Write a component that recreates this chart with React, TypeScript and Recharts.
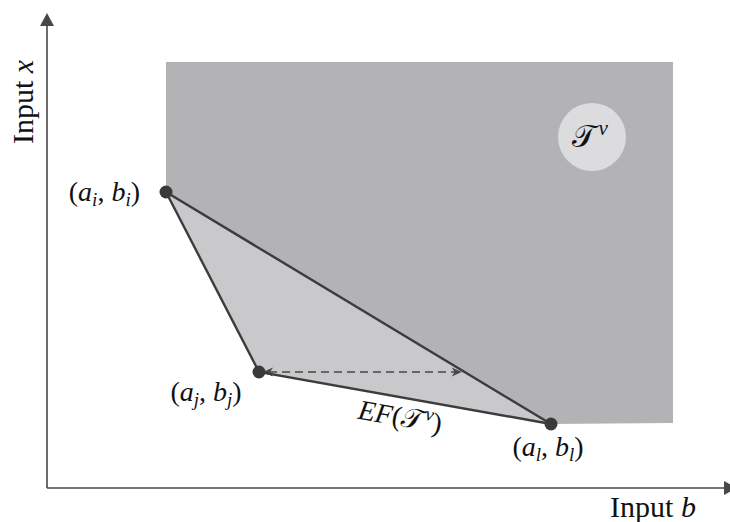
import React from 'react';
import {
  ComposedChart,
  Area,
  Line,
  XAxis,
  YAxis,
  ReferenceLine,
  ReferenceDot,
  LabelList,
} from 'recharts';

// Chart canvas
const WIDTH = 730;
const HEIGHT = 522;

// Vertices of the efficient frontier polygon (b = input b, x = input x)
const vertexNames = ['i', 'j', 'l'];
const vertexB = [119, 212, 504];
const vertexX = [296, 116, 64];

// Extent of the region T^v
const regionB = [119, 626];
const regionX = [65, 426];

// Centre of the T^v badge
const badgeB = 545;
const badgeX = 351;

// Axis ranges
const axisB = [0, 683];
const axisX = [0, 475];
const axisArrowB = 690;

const [bi, bj, bl] = vertexB;
const [xi, xj, xl] = vertexX;

// Rows shared by all series; ranges are [low, high] in input x
const rows = [
  { b: bi, light: [xi, regionX[1]], dark: [xi, regionX[1]], edge: xi, chord: xi },
  { b: bj, light: [xj, regionX[1]], edge: xj },
  { b: bl, light: [xl, regionX[1]], dark: [xl, regionX[1]], edge: xl, chord: xl },
  { b: regionB[1], dark: [regionX[0], regionX[1]] },
];

// Point on the chord i-l at the height of vertex j
const chordB = bi + ((bl - bi) * (xi - xj)) / (xi - xl);

const FONT = "'Liberation Serif', 'Times New Roman', serif";
const INK = '#111111';
const EDGE = '#3c3c3c';
const AXIS = '#474747';
const DARK_FILL = '#b3b3b6';
const LIGHT_FILL = '#c9c9cc';
const BADGE_FILL = '#dcdcde';

const labelOffsets = [
  { dx: -26, dy: 9, anchor: 'end' },
  { dx: -53, dy: 29, anchor: 'middle' },
  { dx: -3, dy: 32, anchor: 'middle' },
];

const LABEL_SIZE = 28;
const SUB_SIZE = 19;
const SUB_DROP = 5;

const renderVertexLabel = (props: any) => {
  const { x, y, index, value } = props;
  if (value == null || index >= vertexNames.length) return null;
  const name = vertexNames[index];
  const o = labelOffsets[index];
  return (
    <text
      x={x + o.dx}
      y={y + o.dy}
      textAnchor={o.anchor}
      fontFamily={FONT}
      fontSize={LABEL_SIZE}
      fill={INK}
    >
      <tspan>(</tspan>
      <tspan fontStyle="italic">a</tspan>
      <tspan fontStyle="italic" fontSize={SUB_SIZE} dy={SUB_DROP}>
        {name}
      </tspan>
      <tspan dy={-SUB_DROP}>, </tspan>
      <tspan fontStyle="italic">b</tspan>
      <tspan fontStyle="italic" fontSize={SUB_SIZE} dy={SUB_DROP}>
        {name}
      </tspan>
      <tspan dy={-SUB_DROP}>)</tspan>
    </text>
  );
};

// Axis line ending in a filled arrowhead
const AxisArrow = (props: any) => {
  const { x1, y1, x2, y2 } = props;
  const len = Math.hypot(x2 - x1, y2 - y1);
  const ux = (x2 - x1) / len;
  const uy = (y2 - y1) / len;
  const head = 13;
  const half = 7;
  const bx = x2 - ux * head;
  const by = y2 - uy * head;
  const px = -uy;
  const py = ux;
  return (
    <g>
      <line x1={x1} y1={y1} x2={bx} y2={by} stroke={AXIS} strokeWidth={1.6} />
      <path
        d={`M${x2},${y2} L${bx + px * half},${by + py * half} L${bx - px * half},${by - py * half} Z`}
        fill={AXIS}
      />
    </g>
  );
};

// Dashed double-headed arrow
const DashedArrow = (props: any) => {
  const { x1, y1, x2, y2 } = props;
  const l = x1 + 4;
  const r = x2 - 3;
  return (
    <g>
      <line
        x1={l + 6}
        y1={y1}
        x2={r - 6}
        y2={y2}
        stroke={AXIS}
        strokeWidth={1.6}
        strokeDasharray="8 5"
      />
      <path d={`M${l},${y1} L${l + 10},${y1 - 4.5} L${l + 7},${y1} L${l + 10},${y1 + 4.5} Z`} fill={AXIS} />
      <path d={`M${r},${y2} L${r - 10},${y2 - 4.5} L${r - 7},${y2} L${r - 10},${y2 + 4.5} Z`} fill={AXIS} />
    </g>
  );
};

const TV = ({ size }: { size: number }) => (
  <>
    <tspan>𝒯</tspan>
    <tspan fontStyle="italic" fontSize={size * 0.68} dx={size * 0.08} dy={-size * 0.38}>
      v
    </tspan>
  </>
);

const renderBadgeLabel = (props: any) => {
  const vb = props.viewBox || {};
  const cx = vb.x + (vb.width || 0) / 2;
  const cy = vb.y + (vb.height || 0) / 2;
  return (
    <text x={cx - 2} y={cy + 10} textAnchor="middle" fontFamily={FONT} fontSize={31} fill={INK}>
      <TV size={31} />
    </text>
  );
};

const renderFrontierLabel = (props: any) => {
  const vb = props.viewBox || {};
  const cx = vb.x + (vb.width || 0) / 2 - 5;
  const cy = vb.y + (vb.height || 0) / 2 + 28;
  return (
    <text
      x={cx}
      y={cy}
      textAnchor="middle"
      fontFamily={FONT}
      fontSize={LABEL_SIZE}
      fill={INK}
      transform={`rotate(10 ${cx} ${cy - 8})`}
    >
      <tspan fontStyle="italic">EF</tspan>
      <tspan>(</tspan>
      <TV size={LABEL_SIZE} />
      <tspan dy={LABEL_SIZE * 0.38}>)</tspan>
    </text>
  );
};

const renderBLabel = (props: any) => {
  const vb = props.viewBox || {};
  return (
    <text x={vb.x + 606} y={vb.y + 29} textAnchor="middle" fontFamily={FONT} fontSize={30} fill={INK}>
      <tspan>Input </tspan>
      <tspan fontStyle="italic">b</tspan>
    </text>
  );
};

const renderXLabel = (props: any) => {
  const vb = props.viewBox || {};
  const x = vb.x - 14;
  const y = vb.y + 89;
  return (
    <text
      x={x}
      y={y}
      textAnchor="middle"
      fontFamily={FONT}
      fontSize={30}
      fill={INK}
      transform={`rotate(-90 ${x} ${y})`}
    >
      <tspan>Input </tspan>
      <tspan fontStyle="italic">x</tspan>
    </text>
  );
};

export default function App() {
  return (
    <div style={{ position: 'absolute', left: 0, top: 0, width: WIDTH, height: HEIGHT, background: '#fff' }}>
      <ComposedChart
        width={WIDTH}
        height={HEIGHT}
        data={rows}
        margin={{ top: 13, right: 0, bottom: 34, left: 47 }}
      >
        <XAxis type="number" dataKey="b" domain={axisB} allowDataOverflow hide />
        <YAxis type="number" domain={axisX} allowDataOverflow hide />
        <Area
          type="linear"
          dataKey="light"
          fill={LIGHT_FILL}
          fillOpacity={1}
          stroke="none"
          connectNulls
          isAnimationActive={false}
        />
        <Area
          type="linear"
          dataKey="dark"
          fill={DARK_FILL}
          fillOpacity={1}
          stroke="none"
          connectNulls
          isAnimationActive={false}
        />
        <ReferenceDot
          x={badgeB}
          y={badgeX}
          r={34}
          fill={BADGE_FILL}
          stroke="none"
          label={renderBadgeLabel}
        />
        <Line
          type="linear"
          dataKey="chord"
          stroke={EDGE}
          strokeWidth={2.4}
          dot={false}
          activeDot={false}
          connectNulls
          isAnimationActive={false}
        />
        <ReferenceLine
          segment={[
            { x: bj, y: xj },
            { x: chordB, y: xj },
          ]}
          shape={DashedArrow}
        />
        <Line
          type="linear"
          dataKey="edge"
          stroke={EDGE}
          strokeWidth={2.4}
          dot={{ r: 6.5, fill: '#3a3a3a', stroke: 'none' }}
          activeDot={false}
          connectNulls
          isAnimationActive={false}
        >
          <LabelList dataKey="edge" content={renderVertexLabel} />
        </Line>
        <ReferenceDot
          x={(bj + bl) / 2}
          y={(xj + xl) / 2}
          r={0}
          fill="none"
          stroke="none"
          label={renderFrontierLabel}
        />
        <ReferenceLine
          segment={[
            { x: 0, y: 0 },
            { x: 0, y: axisX[1] },
          ]}
          ifOverflow="visible"
          shape={AxisArrow}
          label={renderXLabel}
        />
        <ReferenceLine
          segment={[
            { x: 0, y: 0 },
            { x: axisArrowB, y: 0 },
          ]}
          ifOverflow="visible"
          shape={AxisArrow}
          label={renderBLabel}
        />
      </ComposedChart>
    </div>
  );
}
